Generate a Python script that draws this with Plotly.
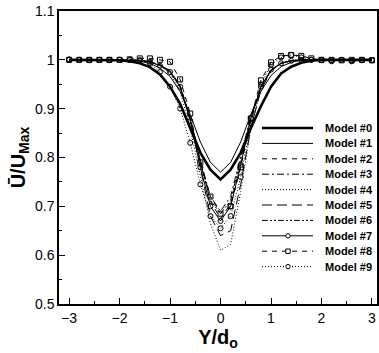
import plotly.graph_objects as go

# x positions (Y/d_o)
X = [-3.0, -2.8, -2.6, -2.4, -2.2, -2.0, -1.8, -1.6, -1.4, -1.2, -1.0,
     -0.8, -0.6, -0.4, -0.2, 0.0, 0.2, 0.4, 0.6, 0.8, 1.0,
     1.2, 1.4, 1.6, 1.8, 2.0, 2.2, 2.4, 2.6, 2.8, 3.0]

model_names = ["Model #0", "Model #1", "Model #2", "Model #3", "Model #4",
               "Model #5", "Model #6", "Model #7", "Model #8", "Model #9"]

m0 = [1.0, 1.0, 1.0, 1.0, 1.0, 0.999, 0.997, 0.993, 0.985, 0.970, 0.945,
      0.910, 0.860, 0.810, 0.775, 0.755, 0.775, 0.810, 0.860, 0.905, 0.945,
      0.972, 0.986, 0.994, 0.998, 1.0, 1.0, 1.0, 1.0, 1.0, 1.0]
m1 = [1.0, 1.0, 1.0, 1.0, 1.0, 1.0, 0.999, 0.997, 0.993, 0.983, 0.966,
      0.935, 0.888, 0.832, 0.790, 0.770, 0.790, 0.832, 0.888, 0.935, 0.968,
      0.986, 0.995, 0.999, 1.0, 1.0, 1.0, 1.0, 1.0, 1.0, 1.0]
m2 = [1.0, 1.0, 1.0, 1.0, 1.0, 1.0, 1.0, 0.999, 0.996, 0.990, 0.978,
      0.948, 0.882, 0.792, 0.710, 0.675, 0.705, 0.785, 0.875, 0.943, 0.978,
      0.993, 0.998, 1.0, 1.0, 1.0, 1.0, 1.0, 1.0, 1.0, 1.0]
m3 = [1.0, 1.0, 1.0, 1.0, 1.0, 1.0, 1.0, 0.999, 0.996, 0.989, 0.975,
      0.944, 0.880, 0.795, 0.720, 0.690, 0.720, 0.800, 0.885, 0.945, 0.978,
      0.993, 0.998, 1.0, 1.0, 1.0, 1.0, 1.0, 1.0, 1.0, 1.0]
m4 = [1.0, 1.0, 1.0, 1.0, 1.0, 1.0, 1.0, 0.999, 0.995, 0.988, 0.972,
      0.935, 0.860, 0.760, 0.665, 0.610, 0.622, 0.730, 0.860, 0.940, 0.980,
      0.994, 0.999, 1.0, 1.0, 1.0, 1.0, 1.0, 1.0, 1.0, 1.0]
m5 = [1.0, 1.0, 1.0, 1.0, 1.0, 1.0, 1.0, 0.999, 0.996, 0.990, 0.977,
      0.945, 0.878, 0.780, 0.680, 0.640, 0.650, 0.745, 0.860, 0.938, 0.977,
      0.993, 0.998, 1.0, 1.0, 1.0, 1.0, 1.0, 1.0, 1.0, 1.0]
m6 = [1.0, 1.0, 1.0, 1.0, 1.0, 1.0, 1.0, 0.999, 0.996, 0.990, 0.977,
      0.946, 0.880, 0.790, 0.712, 0.685, 0.712, 0.795, 0.880, 0.944, 0.978,
      0.993, 0.998, 1.0, 1.0, 1.0, 1.0, 1.0, 1.0, 1.0, 1.0]
m7 = [1.0, 1.0, 1.0, 1.0, 1.0, 1.0, 1.0, 0.999, 0.996, 0.988, 0.975,
      0.945, 0.875, 0.780, 0.700, 0.670, 0.700, 0.785, 0.880, 0.945, 0.980,
      0.993, 0.998, 1.0, 1.0, 1.0, 0.999, 1.0, 0.998, 1.0, 0.999]
m8 = [1.0, 1.0, 1.0, 1.0, 1.0, 1.0, 1.001, 1.003, 1.003, 1.0, 0.996,
      0.960, 0.890, 0.790, 0.720, 0.685, 0.700, 0.780, 0.880, 0.958, 0.995,
      1.008, 1.010, 1.008, 1.003, 1.0, 1.0, 0.999, 1.0, 1.0, 0.999]
m9 = [1.001, 1.0, 0.999, 1.0, 0.999, 1.0, 1.0, 0.999, 0.993, 0.975, 0.945,
      0.900, 0.830, 0.745, 0.680, 0.655, 0.680, 0.760, 0.870, 0.950, 0.990,
      1.005, 1.010, 1.005, 1.0, 0.999, 0.997, 1.0, 0.997, 0.999, 1.0]

series = [m0, m1, m2, m3, m4, m5, m6, m7, m8, m9]

styles = [
    dict(width=2.6, dash="solid", marker=None),
    dict(width=1.0, dash="solid", marker=None),
    dict(width=1.0, dash="5px,5px", marker=None),
    dict(width=1.0, dash="7px,3px,2px,3px", marker=None),
    dict(width=1.0, dash="1px,2px", marker=None),
    dict(width=1.0, dash="10px,5px", marker=None),
    dict(width=1.0, dash="6px,2px,2px,2px,2px,2px", marker=None),
    dict(width=1.0, dash="solid", marker="circle-open"),
    dict(width=1.0, dash="5px,5px", marker="square-open"),
    dict(width=1.0, dash="1px,2px", marker="circle-open"),
]

font_family = "Liberation Sans, Arial, sans-serif"

fig = go.Figure()
for name, ys, st in zip(model_names, series, styles):
    kw = dict(x=X, y=ys, name=name, showlegend=False,
              line=dict(color="black", width=st["width"], dash=st["dash"]))
    if st["marker"]:
        kw["mode"] = "lines+markers"
        kw["marker"] = dict(symbol=st["marker"], size=5, color="black",
                            line=dict(width=1, color="black"))
    else:
        kw["mode"] = "lines"
    fig.add_trace(go.Scatter(**kw))

# --- manual legend (tighter spacing than plotly's built-in legend) ---
W, H = 379, 353
ML, MR, MT, MB = 59, 2, 11, 49
pw, ph = W - ML - MR, H - MT - MB


def px_x(p):
    return (p - ML) / pw


def px_y(p):
    return (H - MB - p) / ph


shapes = []
annotations = []
for i, (name, st) in enumerate(zip(model_names, styles)):
    yc = 128 + 15.4 * i
    shapes.append(dict(type="line", xref="paper", yref="paper",
                       x0=px_x(262), x1=px_x(313), y0=px_y(yc), y1=px_y(yc),
                       line=dict(color="black", width=st["width"], dash=st["dash"])))
    if st["marker"]:
        r = 2.2
        shapes.append(dict(type="circle" if st["marker"].startswith("circle") else "rect",
                           xref="paper", yref="paper",
                           x0=px_x(288 - r), x1=px_x(288 + r),
                           y0=px_y(yc + r), y1=px_y(yc - r),
                           fillcolor="white", line=dict(color="black", width=1)))
    annotations.append(dict(xref="paper", yref="paper", x=px_x(323), y=px_y(yc),
                            xanchor="left", yanchor="middle", showarrow=False,
                            text="<b>" + name + "</b>",
                            font=dict(size=11, family=font_family, color="black")))

fig.update_layout(
    width=W, height=H,
    margin=dict(l=ML, r=MR, t=MT, b=MB, autoexpand=False),
    paper_bgcolor="white", plot_bgcolor="white",
    font=dict(family=font_family, color="black", size=14),
    showlegend=False,
    shapes=shapes,
    annotations=annotations,
    xaxis=dict(range=[-3.2, 3.1], tickvals=[-3, -2, -1, 0, 1, 2, 3],
               ticks="inside", ticklen=6, tickwidth=1, tickcolor="black",
               minor=dict(dtick=0.5, ticks="inside", ticklen=3, tickcolor="black"),
               showline=True, linecolor="black", linewidth=1.5, mirror=True,
               showgrid=False, zeroline=False,
               tickfont=dict(size=14),
               title=dict(text="<b>Y/d<sub>o</sub></b>", font=dict(size=20), standoff=2)),
    yaxis=dict(range=[0.5, 1.1], dtick=0.1, tick0=0.5,
               ticks="inside", ticklen=6, tickwidth=1, tickcolor="black",
               minor=dict(dtick=0.05, ticks="inside", ticklen=3, tickcolor="black"),
               showline=True, linecolor="black", linewidth=1.5, mirror=True,
               showgrid=False, zeroline=False,
               tickfont=dict(size=14),
               title=dict(text="<b>Ū/U<sub>Max</sub></b>", font=dict(size=20), standoff=4)),
)

fig.write_html("out.html",
               config={"displayModeBar": False},
               post_script="document.body.style.margin='0';document.body.style.padding='0';")
